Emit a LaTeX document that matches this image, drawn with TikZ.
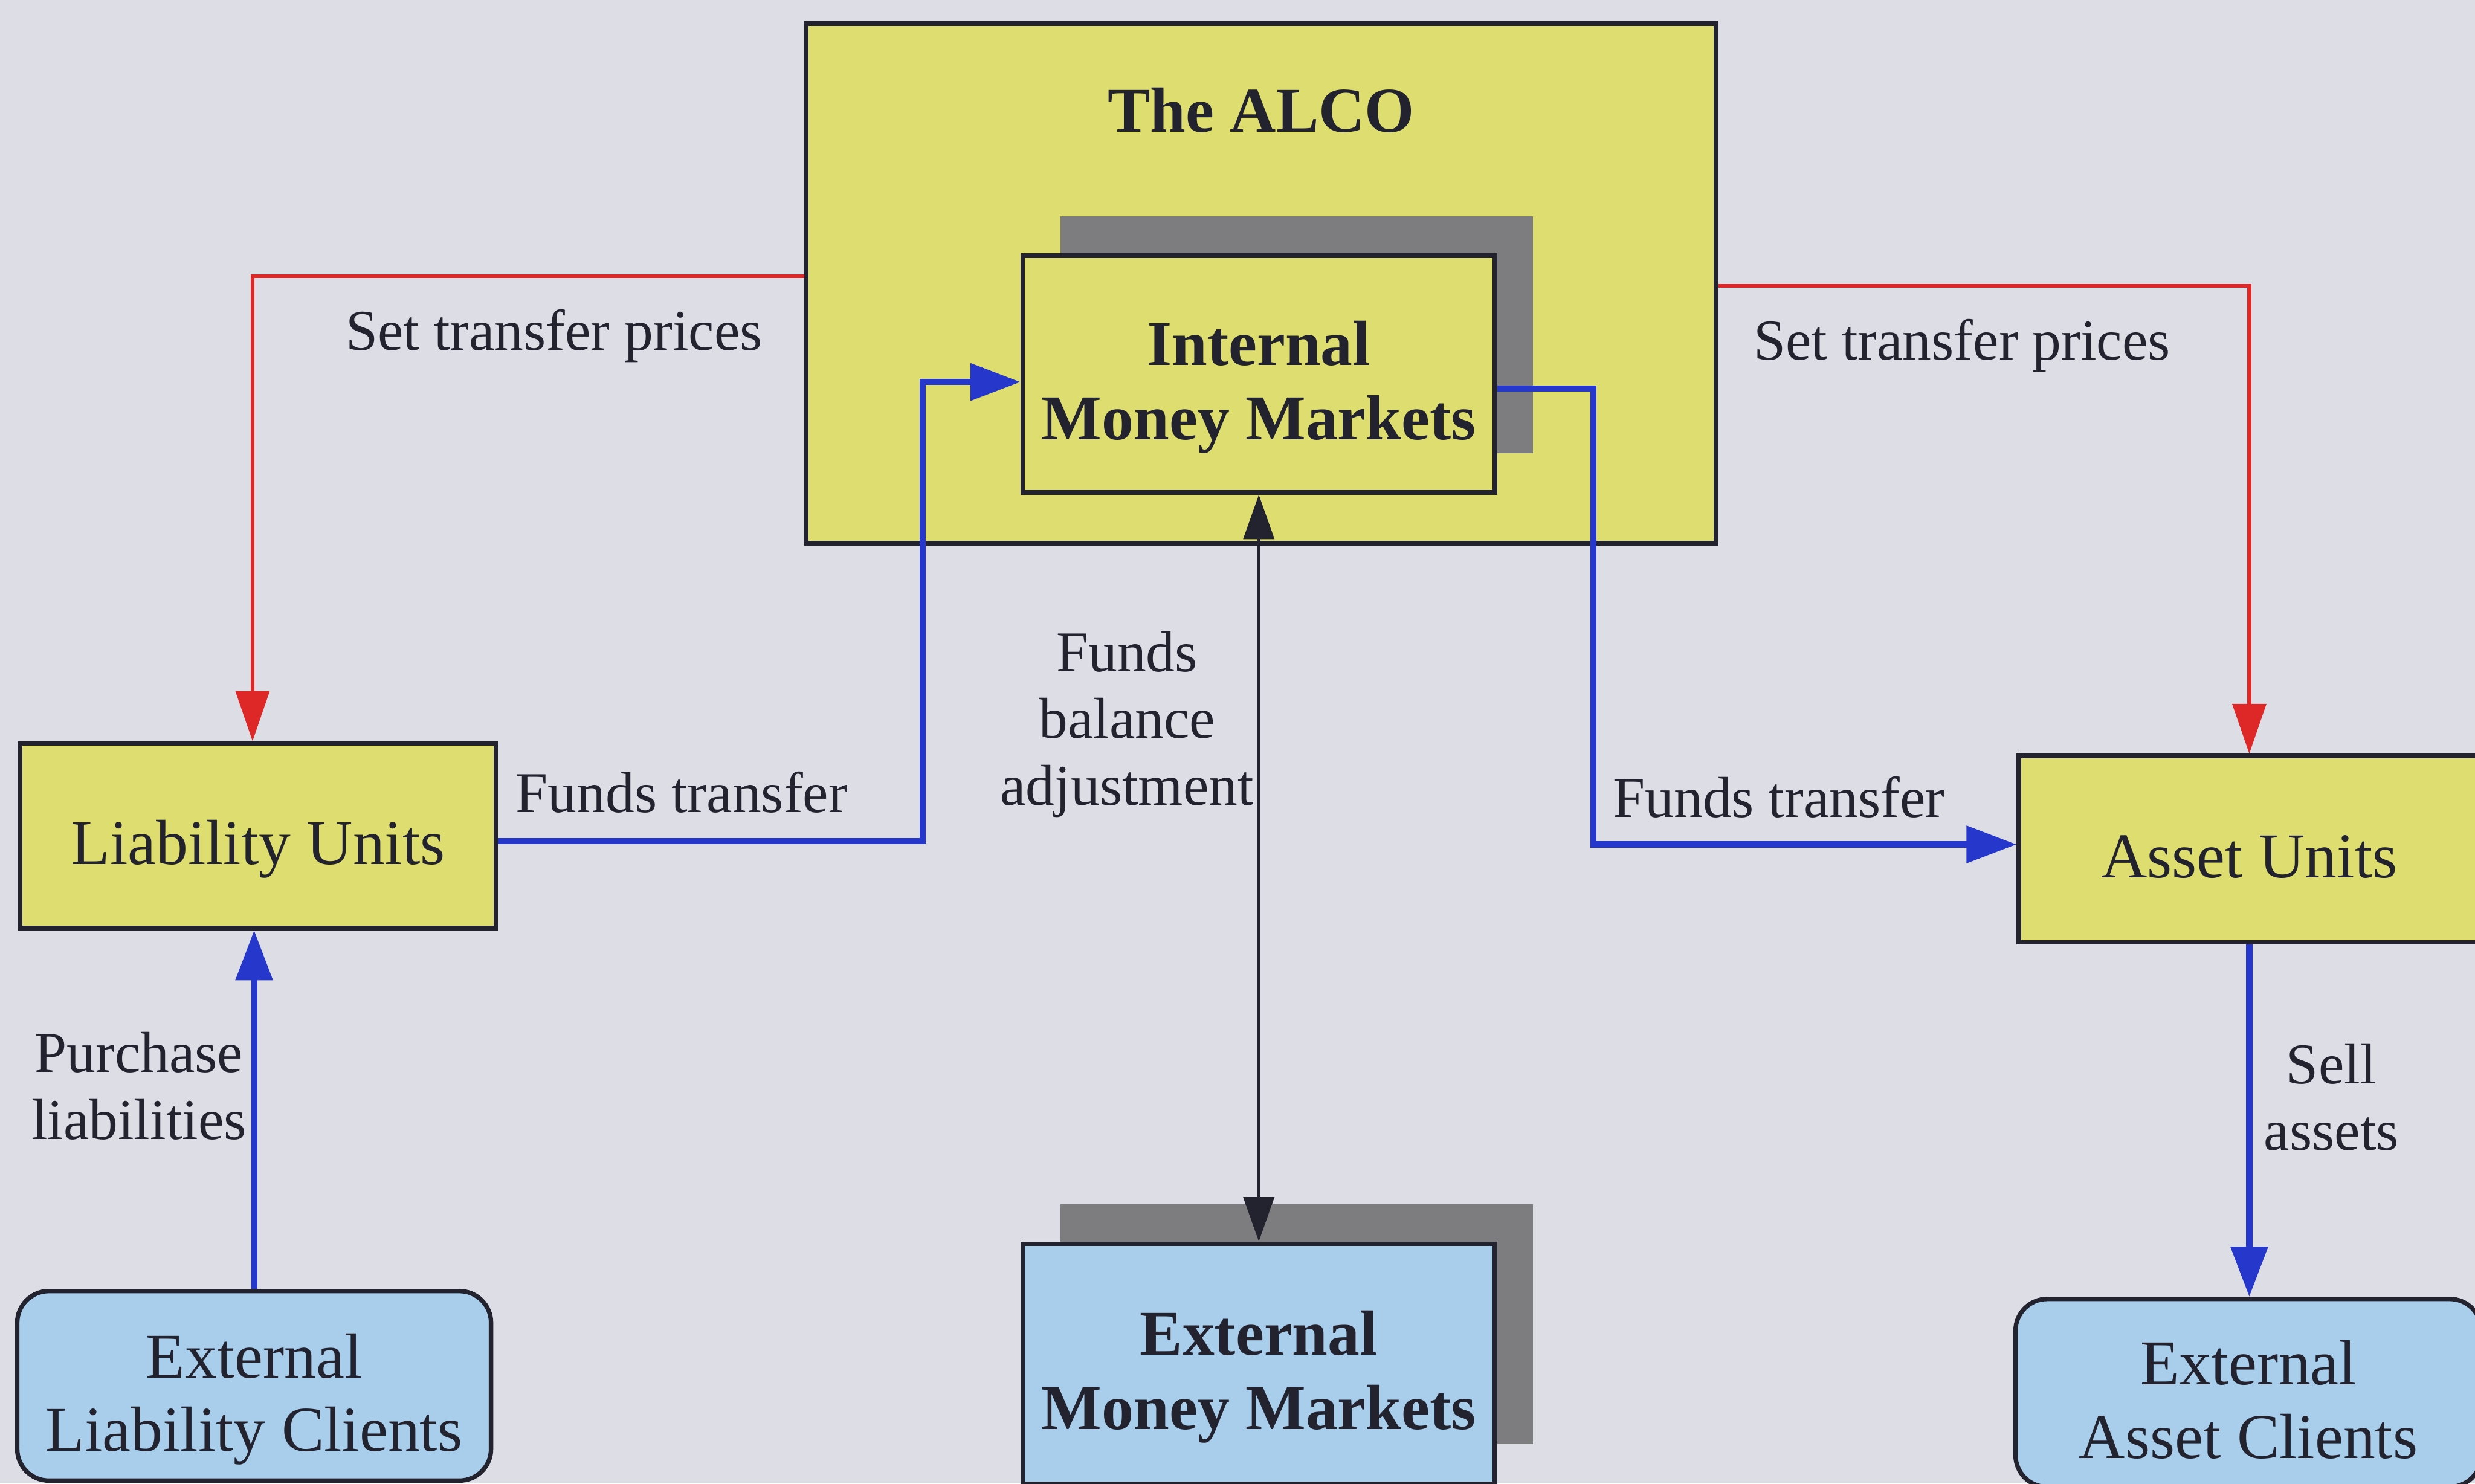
\documentclass[tikz,border=0pt]{standalone}
\usepackage{fontspec}
\setmainfont{Liberation Serif}
\usetikzlibrary{arrows.meta,shadows}
\definecolor{bg}{RGB}{221,221,230}
\definecolor{boxyellow}{RGB}{222,222,112}
\definecolor{boxblue}{RGB}{168,206,236}
\definecolor{shadowgray}{RGB}{125,125,128}
\definecolor{flowblue}{RGB}{38,56,204}
\definecolor{flowred}{RGB}{222,40,40}
\definecolor{ink}{RGB}{35,35,48}
\newcommand\boxstrut{\rule{0pt}{10.3pt}}
\begin{document}
\begin{tikzpicture}[x=0.01cm,y=-0.01cm,
  every node/.style={text=ink},
  boxtext/.style={font=\fontsize{11.5}{13.2}\selectfont},
  boldtext/.style={font=\fontsize{11.5}{13.4}\selectfont\bfseries},
  box/.style={draw=ink, line width=0.8pt, inner sep=0pt, align=center, text depth=0pt, boxtext},
  ybox/.style={box, fill=boxyellow},
  bbox/.style={box, fill=boxblue},
  shadowed/.style={drop shadow={shadow xshift=0.24cm, shadow yshift=0.25cm, fill=shadowgray, opacity=1}},
  lbl/.style={font=\fontsize{10.4}{12}\selectfont, align=center, inner sep=0pt},
  blueflow/.style={draw=flowblue, line width=1.1pt, -{Triangle[length=9pt,width=6.5pt]}},
  redflow/.style={draw=flowred, line width=0.7pt, -{Triangle[length=9pt,width=6pt]}},
  blackflow/.style={draw=ink, line width=0.6pt, {Triangle[length=8pt,width=5.5pt]}-{Triangle[length=8pt,width=5.5pt]}},
]
\fill[bg] (0,0) rectangle (1568,940);
\useasboundingbox (0,0) rectangle (1568,940);

% boxes
\node[ybox, minimum width=5.76cm, minimum height=3.29cm] (alco) at (799,179.5) {};
\node[boldtext, inner sep=0pt] (alcotitle) at (799,70) {The ALCO};
\node[ybox, shadowed, boldtext, minimum width=2.99cm, minimum height=1.50cm] (imm) at (797.5,237) {\boxstrut Internal\\Money Markets};
\node[ybox, minimum width=3.01cm, minimum height=1.17cm] (liab) at (163.5,529.5) {\boxstrut Liability Units};
\node[ybox, minimum width=2.92cm, minimum height=1.18cm] (asset) at (1425,538) {\boxstrut Asset Units};
\node[bbox, rounded corners=0.2cm, minimum width=3.00cm, minimum height=1.20cm] (elc) at (161,878) {\boxstrut External\\Liability Clients};
\node[bbox, shadowed, boldtext, minimum width=2.99cm, minimum height=1.52cm] (emm) at (797.5,864) {\boxstrut External\\Money Markets};
\node[bbox, rounded corners=0.2cm, minimum width=2.95cm, minimum height=1.19cm] (eac) at (1424.5,882.5) {\boxstrut External\\Asset Clients};

% connectors
\draw[redflow] ([yshift=0.045cm]alco.west) -| ([xshift=-0.035cm]liab.north);
\draw[redflow] ([yshift=-0.015cm]alco.east) -| (asset.north);
\draw[blueflow] ([yshift=-0.035cm]liab.east) -- ++(269,0) |- ([yshift=-0.05cm]imm.west);
\draw[blueflow] ([yshift=-0.09cm]imm.east) -- ++(61,0) |- ([yshift=0.03cm]asset.west);
\draw[blackflow] (imm.south) -- (emm.north);
\draw[blueflow] (elc.north) -- (elc.north |- liab.south);
\draw[blueflow] (asset.south) -- (asset.south |- eac.north);

% labels
\node[lbl] (lblsetl) at (351,213) {Set transfer prices};
\node[lbl] (lblsetr) at (1243,219) {Set transfer prices};
\node[lbl] (lblftl) at (432,502) {Funds transfer};
\node[lbl] (lblftr) at (1127,505) {Funds transfer};
\node[lbl] (lblfba) at (714,459) {Funds\\balance\\adjustment};
\node[lbl] (lblpl) at (88,688) {Purchase\\liabilities};
\node[lbl] (lblsa) at (1477,695) {Sell\\assets};
\end{tikzpicture}
\end{document}
